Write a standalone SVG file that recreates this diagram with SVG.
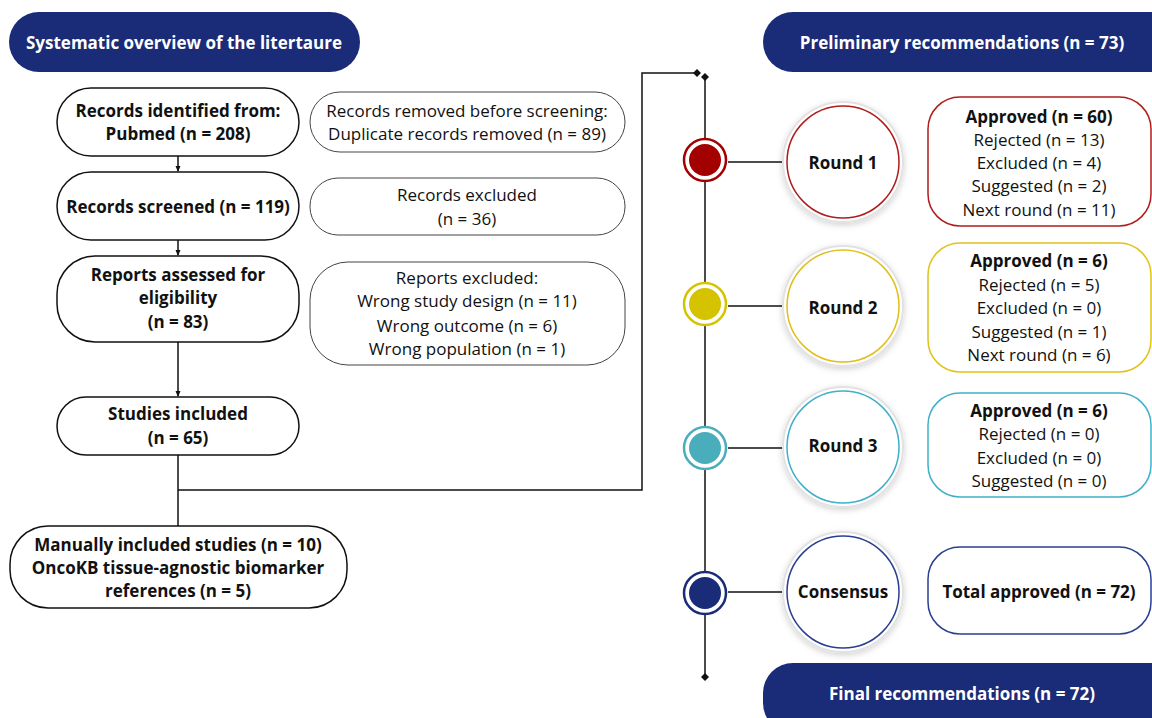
<svg xmlns="http://www.w3.org/2000/svg" width="1152" height="718" viewBox="0 0 1152 718">
<defs>
<style>
text{font-family:"Open Sans","Noto Sans","Liberation Sans",sans-serif;font-size:17px;fill:#111;text-anchor:middle;dominant-baseline:central}
.b{font-weight:bold}
.w{fill:#fff;font-weight:bold}
.pill{fill:#1a2b78}
.lbox{fill:#fff;stroke:#111;stroke-width:1.5}
.gbox{fill:#fff;stroke:#444;stroke-width:1}
.ln{fill:none;stroke:#111;stroke-width:1.5}
.halo{fill:#fff;stroke:#e2e2e2;stroke-width:2}
</style>
<marker id="ah" viewBox="0 0 6 6" refX="5" refY="3" markerWidth="6" markerHeight="6" orient="auto" markerUnits="userSpaceOnUse"><path d="M0,0.5 L6,3 L0,5.5 z" fill="#111"/></marker>
<marker id="dm" viewBox="0 0 8 8" refX="4" refY="4" markerWidth="8" markerHeight="8" markerUnits="userSpaceOnUse"><path d="M4,0 L8,4 L4,8 L0,4 z" fill="#111"/></marker>
<filter id="sh" x="-20%" y="-20%" width="140%" height="140%"><feDropShadow dx="0" dy="2" stdDeviation="3" flood-color="#000" flood-opacity="0.18"/></filter>
</defs>
<rect width="1152" height="718" fill="#fff"/>

<g id="connectors">
<line class="ln" x1="178" y1="156" x2="178" y2="171" marker-end="url(#ah)"/>
<line class="ln" x1="178" y1="240" x2="178" y2="255" marker-end="url(#ah)"/>
<line class="ln" x1="178" y1="342" x2="178" y2="396" marker-end="url(#ah)"/>
<line class="ln" x1="178" y1="455" x2="178" y2="526"/>
<polyline class="ln" points="178,490 642,490 642,73 697,73" marker-end="url(#dm)"/>
<line class="ln" x1="705" y1="77" x2="705" y2="677" marker-start="url(#dm)" marker-end="url(#dm)"/>
<line class="ln" x1="728" y1="162" x2="783" y2="162"/>
<line class="ln" x1="728" y1="306" x2="783" y2="306"/>
<line class="ln" x1="728" y1="448" x2="783" y2="448"/>
<line class="ln" x1="728" y1="592" x2="783" y2="592"/>
</g>

<g id="hdr-left"><rect class="pill" x="9" y="12" width="351" height="60" rx="30"/><text class="w" x="184" y="42">Systematic overview of the litertaure</text></g>
<g id="hdr-prelim"><rect class="pill" x="763" y="12" width="420" height="60" rx="30"/><text class="w" x="962" y="42">Preliminary recommendations (n = 73)</text></g>
<g id="hdr-final"><rect class="pill" x="763" y="663" width="420" height="70" rx="30"/><text class="w" x="962" y="693">Final recommendations (n = 72)</text></g>

<g id="identified"><rect class="lbox" x="57" y="88" width="242" height="68" rx="34"/><text class="b" x="178" y="110">Records identified from:</text><text class="b" x="178" y="133">Pubmed (n = 208)</text></g>
<g id="screened"><rect class="lbox" x="57" y="172" width="242" height="68" rx="34"/><text class="b" x="178" y="206">Records screened (n = 119)</text></g>
<g id="assessed"><rect class="lbox" x="57" y="256" width="242" height="86" rx="38"/><text class="b" x="178" y="274">Reports assessed for</text><text class="b" x="178" y="297">eligibility</text><text class="b" x="178" y="321">(n = 83)</text></g>
<g id="included"><rect class="lbox" x="57" y="397" width="242" height="58" rx="29"/><text class="b" x="178" y="413">Studies included</text><text class="b" x="178" y="437">(n = 65)</text></g>
<g id="manual"><rect class="lbox" x="10" y="526" width="337" height="82" rx="38"/><text class="b" x="178" y="544">Manually included studies (n = 10)</text><text class="b" x="178" y="567">OncoKB tissue-agnostic biomarker</text><text class="b" x="178" y="590">references (n = 5)</text></g>

<g id="removed"><rect class="gbox" x="310" y="92" width="315" height="60" rx="30"/><text x="467" y="110">Records removed before screening:</text><text x="467" y="133">Duplicate records removed (n = 89)</text></g>
<g id="excluded"><rect class="gbox" x="310" y="178" width="315" height="57" rx="28"/><text x="467" y="194">Records excluded</text><text x="467" y="218">(n = 36)</text></g>
<g id="rep-excluded"><rect class="gbox" x="310" y="262" width="315" height="103" rx="38"/><text x="467" y="277">Reports excluded:</text><text x="467" y="300">Wrong study design (n = 11)</text><text x="467" y="325">Wrong outcome (n = 6)</text><text x="467" y="348">Wrong population (n = 1)</text></g>

<g id="dot1"><circle cx="705" cy="160" r="21" fill="#fff" stroke="#a30000" stroke-width="2.5"/><circle cx="705" cy="160" r="16" fill="#a30000"/></g>
<g id="dot2"><circle cx="705" cy="304" r="21" fill="#fff" stroke="#d6c300" stroke-width="2.5"/><circle cx="705" cy="304" r="16" fill="#d6c300"/></g>
<g id="dot3"><circle cx="705" cy="448" r="21" fill="#fff" stroke="#4aadbc" stroke-width="2.5"/><circle cx="705" cy="448" r="16" fill="#4aadbc"/></g>
<g id="dot4"><circle cx="705" cy="593" r="21" fill="#fff" stroke="#1a2b78" stroke-width="2.5"/><circle cx="705" cy="593" r="16" fill="#1a2b78"/></g>

<g id="round1"><circle class="halo" cx="843" cy="162" r="60" filter="url(#sh)"/><circle cx="843" cy="162" r="56" fill="#fff" stroke="#b01c1c" stroke-width="1.5"/><text class="b" x="843" y="162">Round 1</text></g>
<g id="round2"><circle class="halo" cx="843" cy="306" r="60" filter="url(#sh)"/><circle cx="843" cy="306" r="56" fill="#fff" stroke="#e0bf1a" stroke-width="1.5"/><text class="b" x="843" y="307">Round 2</text></g>
<g id="round3"><circle class="halo" cx="843" cy="447" r="60" filter="url(#sh)"/><circle cx="843" cy="447" r="56" fill="#fff" stroke="#3fb0c8" stroke-width="1.5"/><text class="b" x="843" y="445">Round 3</text></g>
<g id="consensus"><circle class="halo" cx="843" cy="592" r="60" filter="url(#sh)"/><circle cx="843" cy="592" r="56" fill="#fff" stroke="#2a3f90" stroke-width="1.5"/><text class="b" x="843" y="591">Consensus</text></g>

<g id="res1"><rect x="928" y="97" width="223" height="129" rx="32" fill="#fff" stroke="#b01c1c" stroke-width="1.5"/><text class="b" x="1039" y="116">Approved (n = 60)</text><text x="1039" y="139">Rejected (n = 13)</text><text x="1039" y="162">Excluded (n = 4)</text><text x="1039" y="185">Suggested (n = 2)</text><text x="1039" y="209">Next round (n = 11)</text></g>
<g id="res2"><rect x="928" y="243" width="223" height="129" rx="32" fill="#fff" stroke="#e0c21a" stroke-width="1.5"/><text class="b" x="1039" y="260">Approved (n = 6)</text><text x="1039" y="284">Rejected (n = 5)</text><text x="1039" y="307">Excluded (n = 0)</text><text x="1039" y="331">Suggested (n = 1)</text><text x="1039" y="354">Next round (n = 6)</text></g>
<g id="res3"><rect x="928" y="393" width="223" height="104" rx="32" fill="#fff" stroke="#3fb0c8" stroke-width="1.5"/><text class="b" x="1039" y="410">Approved (n = 6)</text><text x="1039" y="433">Rejected (n = 0)</text><text x="1039" y="457">Excluded (n = 0)</text><text x="1039" y="480">Suggested (n = 0)</text></g>
<g id="res4"><rect x="928" y="547" width="223" height="87" rx="32" fill="#fff" stroke="#2a3f90" stroke-width="1.5"/><text class="b" x="1039" y="591">Total approved (n = 72)</text></g>
</svg>
